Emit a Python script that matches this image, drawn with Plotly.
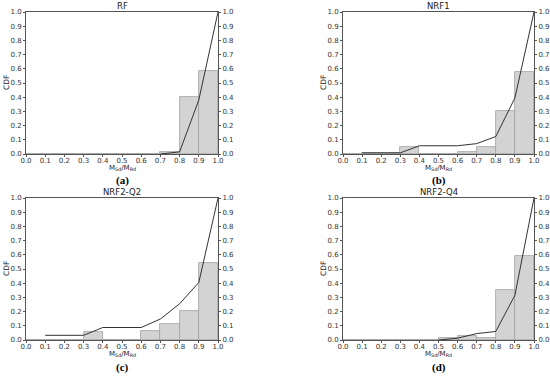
import plotly.graph_objects as go

bin_left = [0.0, 0.1, 0.2, 0.3, 0.4, 0.5, 0.6, 0.7, 0.8, 0.9]

titles = ["RF", "NRF1", "NRF2-Q2", "NRF2-Q4"]
panel_labels = ["(a)", "(b)", "(c)", "(d)"]

rf_bars = [0, 0, 0, 0, 0, 0, 0, 0.015, 0.40, 0.585]
rf_line_x = [0.7, 0.8, 0.9, 1.0]
rf_line_y = [0.0, 0.015, 0.38, 1.0]

nrf1_bars = [0, 0.008, 0.008, 0.05, 0, 0, 0.015, 0.05, 0.30, 0.575]
nrf1_line_x = [0.1, 0.3, 0.4, 0.6, 0.7, 0.8, 0.9, 1.0]
nrf1_line_y = [0.008, 0.008, 0.058, 0.058, 0.073, 0.123, 0.395, 1.0]

q2_bars = [0, 0, 0, 0.055, 0, 0, 0.06, 0.11, 0.205, 0.545]
q2_line_x = [0.1, 0.3, 0.4, 0.6, 0.7, 0.8, 0.9, 1.0]
q2_line_y = [0.033, 0.033, 0.088, 0.088, 0.148, 0.255, 0.405, 1.0]

q4_bars = [0, 0, 0, 0, 0, 0.012, 0.03, 0.015, 0.35, 0.595]
q4_line_x = [0.5, 0.6, 0.7, 0.8, 0.9, 1.0]
q4_line_y = [0.0, 0.013, 0.045, 0.06, 0.315, 1.0]

ticks = [0.0, 0.1, 0.2, 0.3, 0.4, 0.5, 0.6, 0.7, 0.8, 0.9, 1.0]
tick_text = ["%.1f" % t for t in ticks]

bars_all = [rf_bars, nrf1_bars, q2_bars, q4_bars]
lines_all = [(rf_line_x, rf_line_y), (nrf1_line_x, nrf1_line_y),
             (q2_line_x, q2_line_y), (q4_line_x, q4_line_y)]

W, H = 550, 377
# pixel boxes: (left, right, top, bottom)
boxes = [(26, 218, 12, 154), (343, 534, 12, 154),
         (26, 218, 198, 340), (343, 534, 198, 340)]

fig = go.Figure()
tickfont = dict(family="DejaVu Sans", size=7, color="#333333")
frame = "#555555"

for i in range(4):
    l, r, t, b = boxes[i]
    xd = [l / W, r / W]
    yd = [1 - b / H, 1 - t / H]
    xn = "x" if i == 0 else "x%d" % (i + 1)
    yn = "y" if i == 0 else "y%d" % (i + 1)
    yr = "y%d" % (i + 5)
    fig.add_trace(go.Bar(x=bin_left, y=bars_all[i], width=0.1, offset=0,
                         marker=dict(color="#d3d3d3", line=dict(color="#a0a0a0", width=0.8)),
                         xaxis=xn, yaxis=yn, showlegend=False))
    lx, ly = lines_all[i]
    fig.add_trace(go.Scatter(x=lx, y=ly, mode="lines",
                             line=dict(color="#333333", width=1),
                             xaxis=xn, yaxis=yr, showlegend=False))
    xkey = "xaxis" if i == 0 else "xaxis%d" % (i + 1)
    ykey = "yaxis" if i == 0 else "yaxis%d" % (i + 1)
    yrkey = "yaxis%d" % (i + 5)
    fig.layout[xkey] = dict(domain=xd, anchor=yn, range=[0, 1], tickvals=ticks,
                            ticktext=tick_text, ticks="outside", ticklen=2,
                            tickcolor=frame, tickfont=tickfont, showgrid=False,
                            zeroline=False, showline=True, linecolor=frame,
                            linewidth=1, mirror=True, automargin=False,
                            ticklabelstandoff=-2)
    fig.layout[ykey] = dict(domain=yd, anchor=xn, range=[0, 1], tickvals=ticks,
                            ticktext=tick_text, ticks="outside", ticklen=2,
                            tickcolor=frame, tickfont=tickfont, showgrid=False,
                            zeroline=False, showline=True, linecolor=frame,
                            linewidth=1, mirror=True, automargin=False)
    fig.layout[yrkey] = dict(overlaying=yn, side="right", anchor=xn, range=[0, 1],
                             tickvals=ticks, ticktext=tick_text, ticks="outside",
                             ticklen=2, tickcolor=frame, tickfont=tickfont,
                             showgrid=False, zeroline=False, showline=False,
                             automargin=False)
    cx = (l + r) / 2 / W
    # title
    fig.add_annotation(x=cx, y=1 - (t - 6) / H, xref="paper", yref="paper",
                       text=titles[i], showarrow=False,
                       font=dict(family="DejaVu Sans", size=8.5, color="#222222"),
                       xanchor="center", yanchor="middle")
    # y label
    fig.add_annotation(x=(l - 20) / W, y=1 - (t + b) / 2 / H, xref="paper", yref="paper",
                       text="CDF", showarrow=False, textangle=-90,
                       font=dict(family="DejaVu Sans", size=7.5, color="#222222"),
                       xanchor="center", yanchor="middle")
    # x label
    fig.add_annotation(x=cx, y=1 - (b + 14) / H, xref="paper", yref="paper",
                       text="M<sub>Sd</sub>/M<sub>Rd</sub>", showarrow=False,
                       font=dict(family="DejaVu Sans", size=7, color="#222222"),
                       xanchor="center", yanchor="middle")
    # panel label
    fig.add_annotation(x=cx, y=1 - (b + 27) / H, xref="paper", yref="paper",
                       text="<b>%s</b>" % panel_labels[i], showarrow=False,
                       font=dict(family="Liberation Serif", size=11, color="#000000"),
                       xanchor="center", yanchor="middle")

fig.update_layout(width=W, height=H, margin=dict(l=0, r=0, t=0, b=0),
                  paper_bgcolor="white", plot_bgcolor="white", bargap=0,
                  template="none")
fig.write_html("out.html", config={"displayModeBar": False},
               post_script="document.body.style.margin='0';document.body.style.padding='0';")
